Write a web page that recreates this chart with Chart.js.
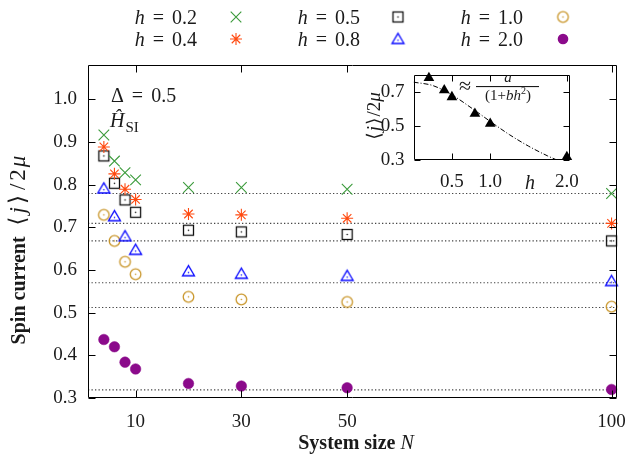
<!DOCTYPE html>
<html><head><meta charset="utf-8">
<script src="https://cdn.jsdelivr.net/npm/chart.js@4/dist/chart.umd.min.js"></script>
<style>
html,body{margin:0;padding:0;background:#fff;}
#wrap{position:relative;width:639px;height:458px;}
#main{position:absolute;left:0;top:0;}
#inset{position:absolute;left:340px;top:55px;}
</style>
</head><body>
<div id="wrap">
<canvas id="main" width="639" height="458"></canvas>
<canvas id="inset" width="250" height="145"></canvas>
</div>
<script>
// ---------------- data ----------------
const systemSizes = [4, 6, 8, 10, 20, 30, 50, 100];
const fieldLabels = ['0.2', '0.4', '0.5', '0.8', '1.0', '2.0'];
const current_h02 = [0.916, 0.855, 0.828, 0.811, 0.793, 0.793, 0.789, 0.779];
const current_h04 = [0.888, 0.825, 0.789, 0.765, 0.731, 0.729, 0.721, 0.709];
const current_h05 = [0.867, 0.803, 0.764, 0.735, 0.693, 0.689, 0.683, 0.668];
const current_h08 = [0.791, 0.726, 0.679, 0.647, 0.597, 0.591, 0.586, 0.574];
const current_h10 = [0.729, 0.668, 0.619, 0.590, 0.537, 0.531, 0.525, 0.514];
const current_h20 = [0.437, 0.420, 0.384, 0.368, 0.334, 0.328, 0.324, 0.320];
const limitValues = [0.779, 0.709, 0.668, 0.570, 0.512, 0.319];
const xTickValues = [10, 30, 50, 100];
const yTickValues = [0.3, 0.4, 0.5, 0.6, 0.7, 0.8, 0.9, 1.0];
// inset
const insetField = [0.2, 0.4, 0.5, 0.8, 1.0, 2.0];
const insetCurrent = [0.785, 0.713, 0.672, 0.574, 0.515, 0.318];
const fitField = [0, 0.25, 0.5, 0.75, 1.0, 1.25, 1.5, 1.75, 2.0];
const fitCurrent = [0.760, 0.740, 0.685, 0.609, 0.528, 0.450, 0.382, 0.324, 0.275];
const insetXTicks = [0.5, 1.0, 2.0];
const insetYTicks = [0.3, 0.5, 0.7];

// ---------------- styles ----------------
const SERIF = '"Liberation Serif", "DejaVu Serif", serif';
const F = (size, style = '', weight = '') => `${style} ${weight} ${size}px ${SERIF}`.replace(/\s+/g, ' ').trim();
const TXT = '#1a1a1a';
const GREEN = '#3a9a3a', ORANGE = '#ff4a10', BLACK = '#111', BLUE = '#0a0aff', GOLD = '#c9962a', PURPLE = '#8b0a8b';

function makeMarker(kind, color) {
  const s = 17, c = document.createElement('canvas');
  c.width = s; c.height = s;
  const g = c.getContext('2d');
  g.strokeStyle = color; g.fillStyle = color; g.lineWidth = 1.3;
  let cy = 8.5;
  if (kind === 'square') { g.strokeRect(3.5, 3.5, 10, 10); }
  if (kind === 'triangle') {
    g.beginPath(); g.moveTo(8.5, 2.8); g.lineTo(14.5, 13); g.lineTo(2.5, 13); g.closePath(); g.stroke();
    cy = 9.8;
  }
  if (kind === 'circle') { g.beginPath(); g.arc(8.5, 8.5, 5.3, 0, 2 * Math.PI); g.stroke(); }
  g.beginPath(); g.arc(8.5, cy, 0.8, 0, 2 * Math.PI); g.fill();
  return c;
}
const sqMarker = makeMarker('square', BLACK);
const triMarker = makeMarker('triangle', BLUE);
const circMarker = makeMarker('circle', GOLD);

const seriesValues = [current_h02, current_h04, current_h05, current_h08, current_h10, current_h20];
const seriesStyles = [
  { pointStyle: 'crossRot', pointRadius: 7.5, borderColor: GREEN, backgroundColor: GREEN, borderWidth: 1.1 },
  { pointStyle: 'star', pointRadius: 6, borderColor: ORANGE, backgroundColor: ORANGE, borderWidth: 1.1 },
  { pointStyle: sqMarker, pointRadius: 6, borderColor: BLACK, backgroundColor: BLACK, borderWidth: 1 },
  { pointStyle: triMarker, pointRadius: 6, borderColor: BLUE, backgroundColor: BLUE, borderWidth: 1 },
  { pointStyle: circMarker, pointRadius: 6, borderColor: GOLD, backgroundColor: GOLD, borderWidth: 1 },
  { pointStyle: 'circle', pointRadius: 5.3, borderColor: PURPLE, backgroundColor: PURPLE, borderWidth: 0.5 }
];

const datasets = [];
seriesValues.forEach((vals, i) => {
  datasets.push(Object.assign({
    label: 'h = ' + fieldLabels[i],
    data: systemSizes.map((n, j) => ({ x: n, y: vals[j] })),
    showLine: false, clip: false, order: 0
  }, seriesStyles[i]));
});
limitValues.forEach((v, i) => {
  datasets.push({
    label: 'limit ' + fieldLabels[i],
    data: [{ x: 1, y: v }, { x: 101, y: v }],
    showLine: true, pointRadius: 0, borderColor: '#444', borderWidth: 1.2,
    borderDash: [1.3, 2.2], order: 10
  });
});

function drawRuns(ctx, runs, x, y, align) {
  let total = 0;
  const widths = runs.map(r => { ctx.font = r[1]; const w = ctx.measureText(r[0]).width; total += w + (r[2] || 0); return w; });
  let cx = align === 'right' ? x - total : align === 'center' ? x - total / 2 : x;
  runs.forEach((r, i) => { cx += (r[2] || 0); ctx.font = r[1]; ctx.fillText(r[0], cx, y + (r[3] || 0)); cx += widths[i]; });
}

function drawMarker(ctx, st, x, y) {
  ctx.save();
  ctx.strokeStyle = st.borderColor; ctx.fillStyle = st.backgroundColor; ctx.lineWidth = st.borderWidth;
  const p = st.pointStyle;
  if (typeof p !== 'string') { ctx.drawImage(p, x - p.width / 2, y - p.height / 2); }
  else {
    const r = st.pointRadius;
    ctx.beginPath();
    if (p === 'crossRot' || p === 'star') {
      const d = r * Math.SQRT1_2;
      ctx.moveTo(x - d, y - d); ctx.lineTo(x + d, y + d); ctx.moveTo(x + d, y - d); ctx.lineTo(x - d, y + d);
      if (p === 'star') { ctx.moveTo(x - r, y); ctx.lineTo(x + r, y); ctx.moveTo(x, y - r); ctx.lineTo(x, y + r); }
      ctx.stroke();
    } else { ctx.arc(x, y, r, 0, 2 * Math.PI); ctx.fill(); }
  }
  ctx.restore();
}

function frameAndTicks(chart, len) {
  const { ctx, chartArea: a, scales } = chart;
  ctx.save();
  ctx.strokeStyle = '#000'; ctx.lineWidth = 1;
  const L = Math.round(a.left) + 0.5, R = Math.round(a.right) - 0.5, T = Math.round(a.top) + 0.5, B = Math.round(a.bottom) - 0.5;
  ctx.beginPath();
  ctx.rect(L, T, R - L, B - T);
  scales.x.ticks.forEach(t => {
    const x = Math.round(scales.x.getPixelForValue(t.value)) + 0.5;
    ctx.moveTo(x, B); ctx.lineTo(x, B - len); ctx.moveTo(x, T); ctx.lineTo(x, T + len);
  });
  scales.y.ticks.forEach(t => {
    const y = Math.round(scales.y.getPixelForValue(t.value)) + 0.5;
    ctx.moveTo(L, y); ctx.lineTo(L + len, y); ctx.moveTo(R, y); ctx.lineTo(R - len, y);
  });
  ctx.stroke();
  ctx.restore();
}

const mainDecor = {
  id: 'mainDecor',
  afterDatasetsDraw(chart) {
    frameAndTicks(chart, 7);
    const ctx = chart.ctx;
    ctx.save();
    ctx.fillStyle = TXT; ctx.textBaseline = 'alphabetic'; ctx.textAlign = 'left';
    // legend (3 columns x 2 rows)
    const textRight = [197, 360, 523], markX = [236, 398, 563], rowY = [17, 39];
    fieldLabels.forEach((lab, i) => {
      const c = Math.floor(i / 2), r = i % 2;
      ctx.fillStyle = TXT;
      drawRuns(ctx, [['h', F(20, 'italic')], ['=', F(20), 8], [lab, F(20), 8]], textRight[c], rowY[r] + 7, 'right');
      drawMarker(ctx, seriesStyles[i], markX[c], rowY[r]);
    });
    ctx.fillStyle = TXT;
    drawRuns(ctx, [['\u0394', F(20)], ['=', F(20), 8], ['0.5', F(20), 8]], 111, 102, 'left');
    drawRuns(ctx, [['\u0124', F(20, 'italic')], ['SI', F(15), 1, 5]], 110, 127, 'left');
    // axis titles
    drawRuns(ctx, [['System size ', F(20, '', 'bold')], ['N', F(20, 'italic')]], 356, 449, 'center');
    ctx.translate(25, 250); ctx.rotate(-Math.PI / 2);
    drawRuns(ctx, [['Spin current', F(20, '', 'bold')], ['\u27E8', F(23), 11], ['j', F(23, 'italic'), 3], ['\u27E9', F(23), 3], ['/', F(23), 5], ['2', F(23), 3], ['\u03BC', F(23, 'italic'), 2]], 0, 0, 'center');
    ctx.restore();
  }
};

const tickFont = { family: SERIF, size: 19 };

new Chart(document.getElementById('main'), {
  type: 'scatter',
  data: { datasets },
  options: {
    responsive: false, animation: false, devicePixelRatio: 1,
    layout: { padding: { top: 65, right: 20, left: 0, bottom: 0 } },
    plugins: { legend: { display: false }, tooltip: { enabled: false } },
    scales: {
      x: {
        type: 'linear', min: 1, max: 101,
        grid: { display: false, drawTicks: false }, border: { display: false },
        afterBuildTicks: s => { s.ticks = xTickValues.map(v => ({ value: v })); },
        afterFit: s => { s.height = 60; },
        ticks: { font: tickFont, color: TXT, padding: 13, maxRotation: 0, callback: v => String(v) }
      },
      y: {
        type: 'linear', min: 0.3, max: 1.08,
        grid: { display: false, drawTicks: false }, border: { display: false },
        afterBuildTicks: s => { s.ticks = yTickValues.map(v => ({ value: v })); },
        afterFit: s => { s.width = 88; },
        ticks: { font: tickFont, color: TXT, padding: 11, callback: v => Number(v).toFixed(1) }
      }
    }
  },
  plugins: [mainDecor]
});

// ---------------- inset ----------------
const OX = 340, OY = 55;
const insetDecor = {
  id: 'insetDecor',
  afterDatasetsDraw(chart) {
    frameAndTicks(chart, 6);
    const ctx = chart.ctx;
    ctx.save();
    ctx.translate(-OX, -OY);
    ctx.fillStyle = TXT; ctx.textBaseline = 'alphabetic'; ctx.textAlign = 'left';
    // formula
    drawRuns(ctx, [['\u2248', F(22)]], 459, 93, 'left');
    drawRuns(ctx, [['a', F(15, 'italic')]], 508, 82, 'center');
    ctx.fillRect(476, 86, 63, 1.1);
    drawRuns(ctx, [['(1+', F(15)], ['bh', F(15, 'italic')], ['2', F(10), 0, -6], [')', F(15)]], 508, 100, 'center');
    // h label
    drawRuns(ctx, [['h', F(20, 'italic')]], 530, 189, 'center');
    // y label
    ctx.translate(380, 116); ctx.rotate(-Math.PI / 2);
    drawRuns(ctx, [['\u27E8', F(19)], ['j', F(19, 'italic'), 1], ['\u27E9', F(19), 1], ['/2', F(19), 1], ['\u03BC', F(19, 'italic')]], 0, 0, 'center');
    ctx.restore();
  }
};

new Chart(document.getElementById('inset'), {
  type: 'scatter',
  data: {
    datasets: [
      {
        label: 'extrapolated', data: insetField.map((h, i) => ({ x: h, y: insetCurrent[i] })),
        pointStyle: 'triangle', pointRadius: 6.2, backgroundColor: '#000', borderColor: '#000', borderWidth: 0,
        showLine: false, clip: false, order: 0
      },
      {
        label: 'fit', data: fitField.map((h, i) => ({ x: h, y: fitCurrent[i] })),
        showLine: true, pointRadius: 0, borderColor: '#000', borderWidth: 1, borderDash: [5, 2, 1, 2],
        cubicInterpolationMode: 'monotone', order: 1
      }
    ]
  },
  options: {
    responsive: false, animation: false, devicePixelRatio: 1,
    layout: { padding: { top: 16.7, right: 14, left: 0, bottom: 0 } },
    plugins: { legend: { display: false }, tooltip: { enabled: false } },
    scales: {
      x: {
        type: 'linear', min: 0, max: 2.04,
        grid: { display: false, drawTicks: false }, border: { display: false },
        afterBuildTicks: s => { s.ticks = insetXTicks.map(v => ({ value: v })); },
        afterFit: s => { s.height = 40; },
        ticks: { font: tickFont, color: TXT, padding: 11, maxRotation: 0, callback: v => Number(v).toFixed(1) }
      },
      y: {
        type: 'linear', min: 0.3, max: 0.8,
        grid: { display: false, drawTicks: false }, border: { display: false },
        afterBuildTicks: s => { s.ticks = insetYTicks.map(v => ({ value: v })); },
        afterFit: s => { s.width = 73.6; },
        ticks: { font: tickFont, color: TXT, padding: 9, callback: v => Number(v).toFixed(1) }
      }
    }
  },
  plugins: [insetDecor]
});
</script>
</body></html>
